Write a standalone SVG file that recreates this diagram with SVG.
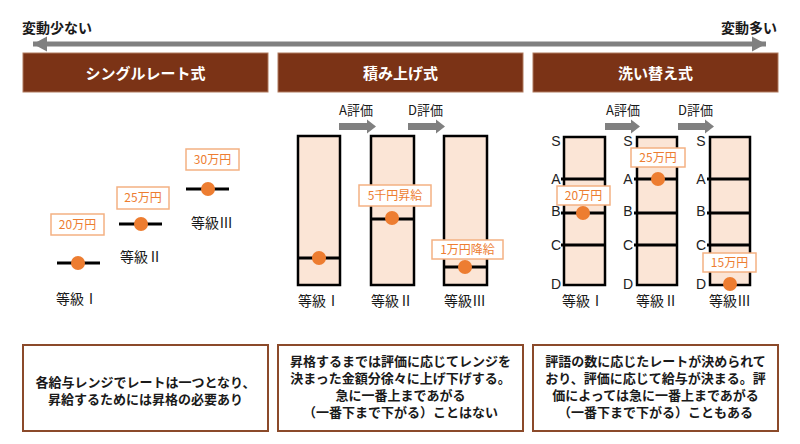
<svg xmlns="http://www.w3.org/2000/svg" width="800" height="444" viewBox="0 0 800 444">
<style>
text{font-family:"Noto Sans CJK JP","Noto Sans",sans-serif;fill:#1a1a1a}
.hdr rect{fill:#7B3316;stroke:#b07a5e;stroke-width:1}
.hdr text{fill:#fff;font-size:15px;font-weight:bold;text-anchor:middle}
.top{font-size:14px;font-weight:bold}
.grade{font-size:14px;text-anchor:middle}
.eval{font-size:13px}
.price rect{fill:#fff;stroke:#F4B183;stroke-width:1.5}
.price text{fill:#ED7D31;font-size:12px;text-anchor:middle}
.dot{fill:#ED7D31}
.lv{stroke:#000;stroke-width:3}
.bar{fill:#FBE5D6;stroke:#000;stroke-width:2.5}
.rk{font-family:"Liberation Sans",sans-serif;font-size:14px;text-anchor:middle;fill:#222}
.desc rect{fill:#fff;stroke:#8B4A2A;stroke-width:2}
.desc text{font-family:"Liberation Sans","Noto Sans CJK JP",sans-serif;font-size:13px;font-weight:bold;text-anchor:middle}
.garrow{fill:#808080}
</style>
<defs>
<marker id="ah" markerUnits="userSpaceOnUse" markerWidth="16" markerHeight="16" refX="14" refY="8" orient="auto-start-reverse">
<path d="M0,0.5 L14,8 L0,15.5 Z" fill="#808080"/>
</marker>
</defs>

<g id="connectors">
<line x1="33" y1="44" x2="766" y2="44" stroke="#808080" stroke-width="5" marker-start="url(#ah)" marker-end="url(#ah)"/>
<polygon class="garrow" points="339,123 367,123 367,119.5 376,126.5 367,133.5 367,130 339,130"/>
<polygon class="garrow" points="408,123 436,123 436,119.5 445,126.5 436,133.5 436,130 408,130"/>
<polygon class="garrow" points="605,123 631,123 631,119.5 640,126.5 631,133.5 631,130 605,130"/>
<polygon class="garrow" points="678,123 705,123 705,119.5 714,126.5 705,133.5 705,130 678,130"/>
</g>

<g id="axis-labels">
<text class="top" x="22" y="33">変動少ない</text>
<text class="top" x="777" y="33" text-anchor="end">変動多い</text>
</g>

<g id="hdr-single" class="hdr"><rect x="23" y="53" width="245" height="39"/><text x="145.5" y="79">シングルレート式</text></g>
<g id="hdr-stack" class="hdr"><rect x="278" y="53" width="245" height="39"/><text x="400.5" y="79">積み上げ式</text></g>
<g id="hdr-replace" class="hdr"><rect x="533" y="53" width="245" height="39"/><text x="655.5" y="79">洗い替え式</text></g>

<!-- Single rate -->
<g id="single-g1">
<g class="price"><rect x="51" y="214" width="53" height="21"/><text x="77.5" y="229">20万円</text></g>
<line class="lv" x1="57" y1="263" x2="100" y2="263"/>
<circle class="dot" cx="78" cy="263" r="7"/>
<text class="grade" x="77" y="304">等級Ⅰ</text>
</g>
<g id="single-g2">
<g class="price"><rect x="117" y="187" width="52" height="22"/><text x="143" y="202">25万円</text></g>
<line class="lv" x1="119" y1="224" x2="162" y2="224"/>
<circle class="dot" cx="141" cy="224" r="7"/>
<text class="grade" x="141" y="262">等級Ⅱ</text>
</g>
<g id="single-g3">
<g class="price"><rect x="186" y="149" width="53" height="21"/><text x="212.5" y="164">30万円</text></g>
<line class="lv" x1="186" y1="189" x2="229" y2="189"/>
<circle class="dot" cx="208" cy="189" r="7"/>
<text class="grade" x="212" y="228">等級Ⅲ</text>
</g>

<!-- Stacking -->
<g id="stack-evalA"><text class="eval" x="339" y="115">A評価</text></g>
<g id="stack-evalD"><text class="eval" x="408" y="115">D評価</text></g>
<g id="stack-g1">
<rect class="bar" x="298" y="136" width="42" height="149"/>
<line class="lv" x1="298" y1="258" x2="340" y2="258"/>
<circle class="dot" cx="319" cy="258" r="7"/>
<text class="grade" x="319" y="306">等級Ⅰ</text>
</g>
<g id="stack-g2">
<rect class="bar" x="371" y="136" width="43" height="149"/>
<line class="lv" x1="371" y1="219" x2="415" y2="219"/>
<circle class="dot" cx="392" cy="218" r="7"/>
<g class="price"><rect x="359" y="185" width="72" height="21"/><text x="395" y="200">5千円昇給</text></g>
<text class="grade" x="392" y="306">等級Ⅱ</text>
</g>
<g id="stack-g3">
<rect class="bar" x="444" y="136" width="43" height="149"/>
<line class="lv" x1="444" y1="267" x2="488" y2="267"/>
<circle class="dot" cx="465" cy="267" r="7"/>
<g class="price"><rect x="432" y="240" width="71" height="19"/><text x="467.5" y="254">1万円降給</text></g>
<text class="grade" x="465" y="306">等級Ⅲ</text>
</g>

<!-- Replacement -->
<g id="rep-evalA"><text class="eval" x="606" y="115">A評価</text></g>
<g id="rep-evalD"><text class="eval" x="678" y="115">D評価</text></g>
<g id="rep-g1">
<rect class="bar" x="564" y="137" width="41" height="148"/>
<line class="lv" x1="561" y1="179" x2="605" y2="179"/>
<line class="lv" x1="561" y1="213" x2="605" y2="213"/>
<line class="lv" x1="561" y1="245" x2="605" y2="245"/>
<text class="rk" x="556" y="146">S</text><text class="rk" x="556" y="184">A</text><text class="rk" x="556" y="216">B</text><text class="rk" x="556" y="250">C</text><text class="rk" x="556" y="289">D</text>
<circle class="dot" cx="583" cy="213" r="7"/>
<g class="price"><rect x="557" y="186" width="53" height="19"/><text x="583.5" y="200">20万円</text></g>
<text class="grade" x="583" y="306">等級Ⅰ</text>
</g>
<g id="rep-g2">
<rect class="bar" x="637" y="137" width="40" height="148"/>
<line class="lv" x1="634" y1="179" x2="677" y2="179"/>
<line class="lv" x1="634" y1="213" x2="677" y2="213"/>
<line class="lv" x1="634" y1="245" x2="677" y2="245"/>
<text class="rk" x="628" y="146">S</text><text class="rk" x="628" y="184">A</text><text class="rk" x="628" y="216">B</text><text class="rk" x="628" y="250">C</text><text class="rk" x="628" y="289">D</text>
<circle class="dot" cx="658" cy="179" r="7"/>
<g class="price"><rect x="631" y="148" width="54" height="19"/><text x="658" y="162">25万円</text></g>
<text class="grade" x="657" y="306">等級Ⅱ</text>
</g>
<g id="rep-g3">
<rect class="bar" x="710" y="137" width="40" height="148"/>
<line class="lv" x1="707" y1="179" x2="750" y2="179"/>
<line class="lv" x1="707" y1="213" x2="750" y2="213"/>
<line class="lv" x1="707" y1="245" x2="750" y2="245"/>
<text class="rk" x="701" y="146">S</text><text class="rk" x="701" y="184">A</text><text class="rk" x="701" y="216">B</text><text class="rk" x="701" y="250">C</text><text class="rk" x="701" y="289">D</text>
<circle class="dot" cx="730" cy="284" r="7"/>
<g class="price"><rect x="703" y="253" width="53" height="19"/><text x="729.5" y="267">15万円</text></g>
<text class="grade" x="730" y="306">等級Ⅲ</text>
</g>

<!-- Descriptions -->
<g id="desc-single" class="desc">
<rect x="23" y="345" width="245" height="86"/>
<text x="145.5" y="387">各給与レンジでレートは一つとなり、</text>
<text x="145.5" y="404">昇給するためには昇格の必要あり</text>
</g>
<g id="desc-stack" class="desc">
<rect x="278" y="345" width="245" height="86"/>
<text x="400.5" y="366">昇格するまでは評価に応じてレンジを</text>
<text x="400.5" y="383">決まった金額分徐々に上げ下げする。</text>
<text x="400.5" y="400">急に一番上まであがる</text>
<text x="400.5" y="417">（一番下まで下がる）ことはない</text>
</g>
<g id="desc-replace" class="desc">
<rect x="533" y="345" width="245" height="86"/>
<text x="655.5" y="366">評語の数に応じたレートが決められて</text>
<text x="655.5" y="383">おり、評価に応じて給与が決まる。評</text>
<text x="655.5" y="400">価によっては急に一番上まであがる</text>
<text x="655.5" y="417">（一番下まで下がる）こともある</text>
</g>
</svg>
